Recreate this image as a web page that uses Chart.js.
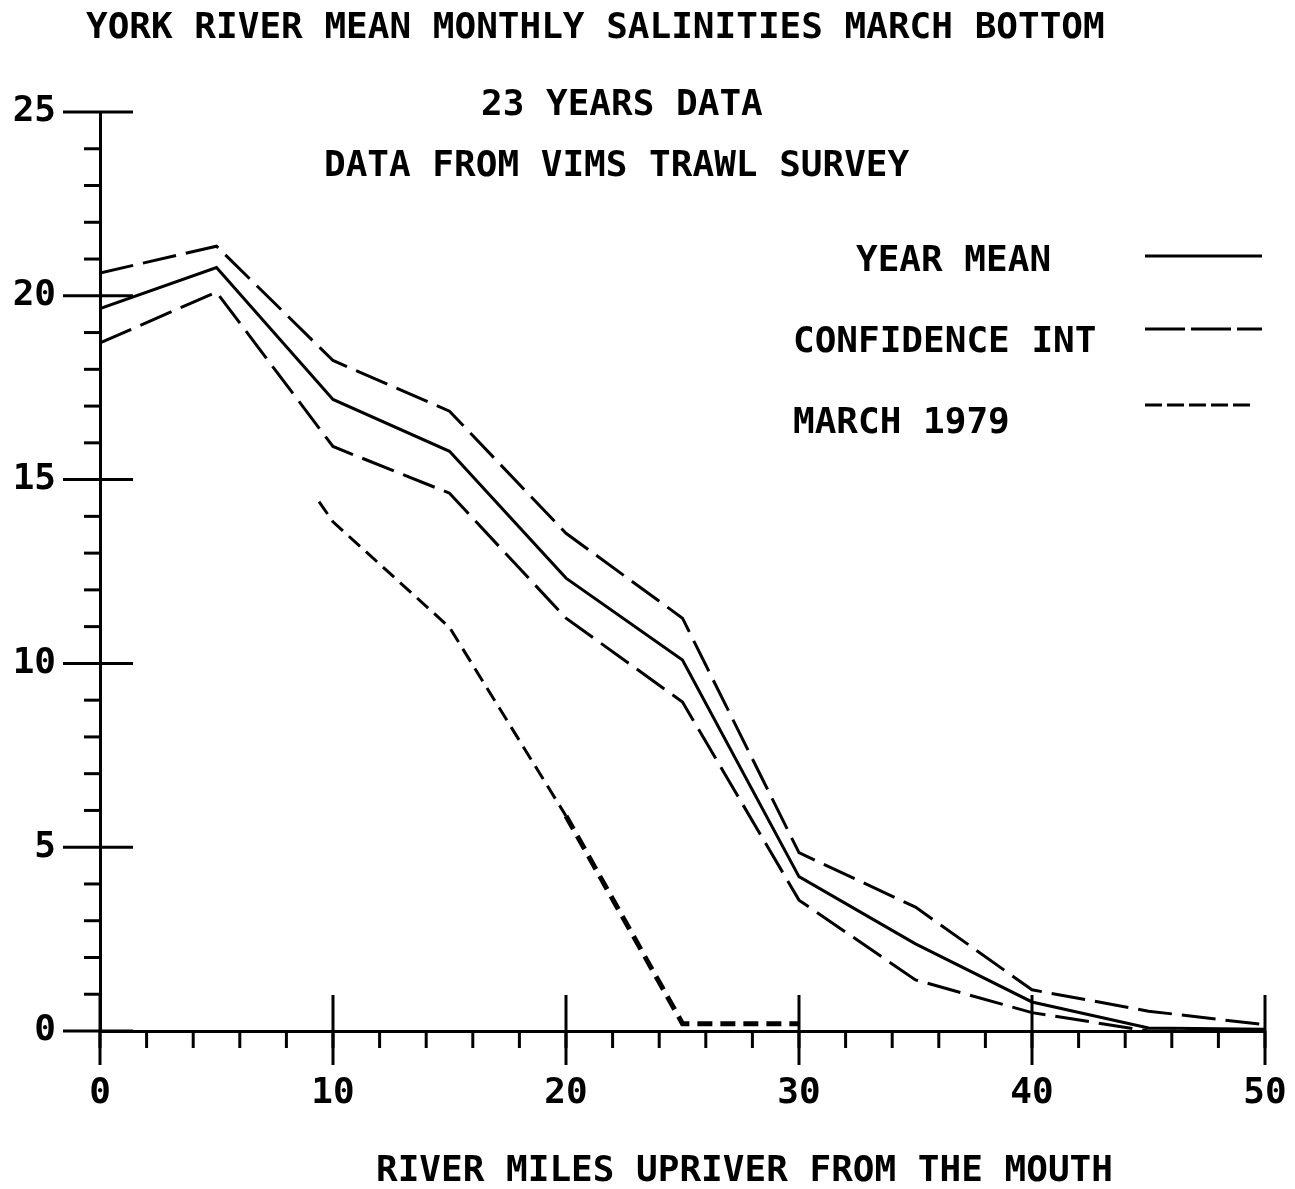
<!DOCTYPE html>
<html>
<head>
<meta charset="utf-8">
<title>York River mean monthly salinities</title>
<script src="https://cdn.jsdelivr.net/npm/chart.js@4.4.1/dist/chart.umd.min.js"></script>
<style>
  html, body { margin: 0; padding: 0; background: #fff; }
  canvas { display: block; }
</style>
</head>
<body>
<canvas id="chart" width="1295" height="1189"></canvas>
<script>
// River miles where the survey means were computed
const miles = [0, 5, 10, 15, 20, 25, 30, 35, 40, 45, 50];
const yearMean = [19.65, 20.77, 17.18, 15.77, 12.32, 10.09, 4.2, 2.37, 0.79, 0.08, 0.05];
const upperCI = [20.62, 21.35, 18.24, 16.86, 13.54, 11.23, 4.85, 3.37, 1.12, 0.54, 0.17];
const lowerCI = [18.72, 20.1, 15.9, 14.63, 11.23, 8.95, 3.56, 1.39, 0.5, 0, 0];

// March 1979 trace
const marchMiles = [9.4, 10, 15, 20, 25, 30];
const march1979 = [14.4, 13.85, 10.98, 5.85, 0.2, 0.2];

const xTicks = [0, 10, 20, 30, 40, 50];
const yTicks = [0, 5, 10, 15, 20, 25];

const FONT = "'DejaVu Sans Mono', 'Liberation Mono', monospace";

function pts(xs, ys) {
  return xs.map((x, i) => ({ x: x, y: ys[i] }));
}

const CI_DASH = [34, 10];
const MARCH_DASH = [15, 8];

// axis ticks, titles and legend
const decor = {
  id: "decor",
  afterDraw(chart) {
    const ctx = chart.ctx;
    const xs = chart.scales.x;
    const ys = chart.scales.y;
    const left = chart.chartArea.left;
    const bottom = chart.chartArea.bottom;

    ctx.save();
    ctx.strokeStyle = "#000";
    ctx.lineWidth = 3;
    ctx.lineCap = "butt";

    // y ticks, one per unit
    for (let v = 0; v <= 25; v++) {
      const py = ys.getPixelForValue(v);
      const major = v % 5 === 0;
      ctx.beginPath();
      ctx.moveTo(left - (major ? 37 : 16), py);
      ctx.lineTo(left + (major ? 33 : 0), py);
      ctx.stroke();
    }

    // x ticks, every two miles
    for (let m = 0; m <= 50; m += 2) {
      const px = xs.getPixelForValue(m);
      ctx.beginPath();
      ctx.moveTo(px, bottom + 17);
      ctx.lineTo(px, bottom);
      ctx.stroke();
    }
    xTicks.forEach((m) => {
      const px = xs.getPixelForValue(m);
      ctx.beginPath();
      ctx.moveTo(px, bottom - 36);
      ctx.lineTo(px, bottom + 34);
      ctx.stroke();
    });

    // texts
    ctx.fillStyle = "#000";
    ctx.font = "bold 36px " + FONT;
    ctx.textAlign = "left";
    ctx.textBaseline = "alphabetic";
    ctx.fillText("YORK RIVER MEAN MONTHLY SALINITIES MARCH BOTTOM", 86, 38);
    ctx.fillText("23 YEARS DATA", 481, 115);
    ctx.fillText("DATA FROM VIMS TRAWL SURVEY", 324, 176);
    ctx.fillText("RIVER MILES UPRIVER FROM THE MOUTH", 376, 1181);

    // legend
    ctx.fillText("YEAR MEAN", 856, 271);
    ctx.fillText("CONFIDENCE INT", 793, 352);
    ctx.fillText("MARCH 1979", 793, 433);

    ctx.setLineDash([]);
    ctx.beginPath();
    ctx.moveTo(1145, 256);
    ctx.lineTo(1262, 256);
    ctx.stroke();

    ctx.setLineDash([40, 6]);
    ctx.beginPath();
    ctx.moveTo(1145, 329);
    ctx.lineTo(1262, 329);
    ctx.stroke();

    ctx.setLineDash([17, 5]);
    ctx.beginPath();
    ctx.moveTo(1145, 405);
    ctx.lineTo(1255, 405);
    ctx.stroke();

    ctx.restore();
  }
};

const whiteBg = {
  id: "whiteBg",
  beforeDraw(chart) {
    const ctx = chart.ctx;
    ctx.save();
    ctx.fillStyle = "#fff";
    ctx.fillRect(0, 0, chart.width, chart.height);
    ctx.restore();
  }
};

new Chart(document.getElementById("chart"), {
  type: "line",
  data: {
    datasets: [
      {
        label: "YEAR MEAN",
        data: pts(miles, yearMean),
        borderColor: "#000",
        borderWidth: 3
      },
      {
        label: "CONFIDENCE INT",
        data: pts(miles, upperCI),
        borderColor: "#000",
        borderWidth: 3,
        borderDash: CI_DASH
      },
      {
        label: "CONFIDENCE INT (lower)",
        data: pts(miles, lowerCI),
        borderColor: "#000",
        borderWidth: 3,
        borderDash: CI_DASH
      },
      {
        label: "MARCH 1979",
        data: pts(marchMiles, march1979),
        borderColor: "#000",
        borderWidth: 3,
        borderDash: MARCH_DASH,
        segment: {
          borderWidth: (c) => (c.p0.parsed.x >= 20 ? 5 : 3)
        }
      }
    ]
  },
  options: {
    responsive: false,
    animation: false,
    layout: {
      padding: { top: 112, right: 30, left: 0, bottom: 0 }
    },
    elements: {
      point: { radius: 0 },
      line: { tension: 0, fill: false, borderJoinStyle: "miter" }
    },
    plugins: {
      legend: { display: false },
      title: { display: false },
      tooltip: { enabled: false }
    },
    scales: {
      x: {
        type: "linear",
        min: 0,
        max: 50,
        afterBuildTicks(s) {
          s.ticks = xTicks.map((v) => ({ value: v }));
        },
        afterFit(s) {
          s.height = 158;
          s.paddingLeft = 0;
          s.paddingRight = 0;
        },
        ticks: {
          color: "#000",
          padding: 33,
          maxRotation: 0,
          font: { family: FONT, size: 36, weight: "bold" }
        },
        grid: { display: false },
        border: { display: true, color: "#000", width: 3 }
      },
      y: {
        type: "linear",
        min: 0,
        max: 25,
        afterBuildTicks(s) {
          s.ticks = yTicks.map((v) => ({ value: v }));
        },
        afterFit(s) {
          s.width = 100;
          s.paddingTop = 0;
          s.paddingBottom = 0;
        },
        ticks: {
          color: "#000",
          padding: 36,
          font: { family: FONT, size: 36, weight: "bold" }
        },
        grid: { display: false },
        border: { display: true, color: "#000", width: 3 }
      }
    }
  },
  plugins: [whiteBg, decor]
});
</script>
</body>
</html>
